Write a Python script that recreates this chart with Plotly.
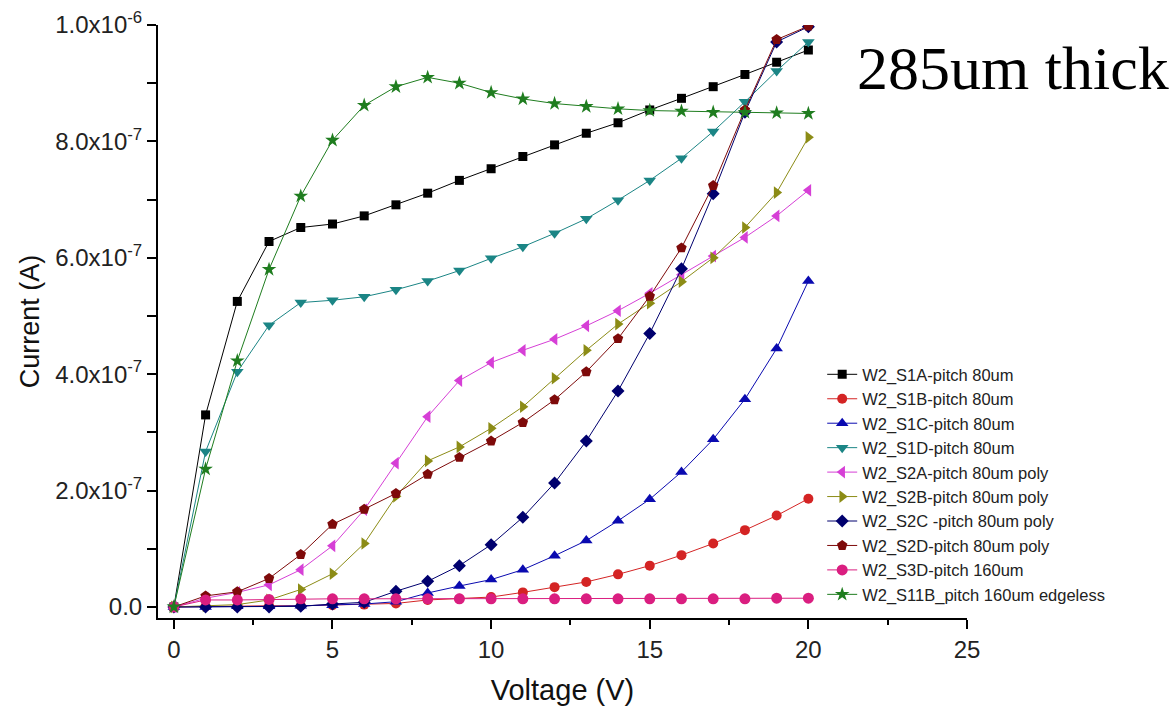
import plotly.graph_objects as go

# Bias voltage steps (V)
voltage = list(range(0, 21))

# Leakage current per sensor (A)
s1a = [0, 3.30e-7, 5.25e-7, 6.28e-7, 6.52e-7, 6.58e-7, 6.72e-7, 6.91e-7, 7.11e-7, 7.33e-7, 7.53e-7,
       7.74e-7, 7.94e-7, 8.14e-7, 8.32e-7, 8.54e-7, 8.74e-7, 8.94e-7, 9.15e-7, 9.36e-7, 9.57e-7]
s1b = [0, 0.01e-7, 0.01e-7, 0.02e-7, 0.02e-7, 0.03e-7, 0.04e-7, 0.06e-7, 0.12e-7, 0.14e-7, 0.17e-7,
       0.25e-7, 0.34e-7, 0.43e-7, 0.56e-7, 0.71e-7, 0.89e-7, 1.09e-7, 1.32e-7, 1.57e-7, 1.86e-7]
s1c = [0, 0.0, 0.01e-7, 0.01e-7, 0.02e-7, 0.03e-7, 0.05e-7, 0.09e-7, 0.24e-7, 0.36e-7, 0.47e-7,
       0.64e-7, 0.88e-7, 1.14e-7, 1.48e-7, 1.85e-7, 2.32e-7, 2.88e-7, 3.57e-7, 4.44e-7, 5.60e-7]
s1d = [0, 2.67e-7, 4.04e-7, 4.84e-7, 5.23e-7, 5.27e-7, 5.33e-7, 5.45e-7, 5.60e-7, 5.78e-7, 5.99e-7,
       6.19e-7, 6.42e-7, 6.67e-7, 6.99e-7, 7.33e-7, 7.71e-7, 8.17e-7, 8.68e-7, 9.21e-7, 9.71e-7]
s2a = [0, 0.15e-7, 0.25e-7, 0.38e-7, 0.64e-7, 1.05e-7, 1.67e-7, 2.47e-7, 3.27e-7, 3.89e-7, 4.20e-7,
       4.41e-7, 4.60e-7, 4.83e-7, 5.09e-7, 5.39e-7, 5.71e-7, 6.03e-7, 6.35e-7, 6.72e-7, 7.16e-7]
s2b = [0, 0.02e-7, 0.04e-7, 0.12e-7, 0.30e-7, 0.57e-7, 1.09e-7, 1.90e-7, 2.51e-7, 2.75e-7, 3.07e-7,
       3.44e-7, 3.93e-7, 4.41e-7, 4.86e-7, 5.22e-7, 5.59e-7, 6.00e-7, 6.52e-7, 7.12e-7, 8.07e-7]
s2c = [0, 0.0, 0.0, 0.0, 0.01e-7, 0.05e-7, 0.08e-7, 0.27e-7, 0.44e-7, 0.71e-7, 1.07e-7,
       1.54e-7, 2.13e-7, 2.85e-7, 3.71e-7, 4.70e-7, 5.81e-7, 7.10e-7, 8.50e-7, 9.71e-7, 9.97e-7]
s2d = [0, 0.19e-7, 0.26e-7, 0.49e-7, 0.90e-7, 1.42e-7, 1.68e-7, 1.95e-7, 2.28e-7, 2.57e-7, 2.85e-7,
       3.17e-7, 3.56e-7, 4.04e-7, 4.61e-7, 5.34e-7, 6.17e-7, 7.24e-7, 8.54e-7, 9.75e-7, 9.98e-7]
s3d = [0, 0.12e-7, 0.12e-7, 0.13e-7, 0.14e-7, 0.14e-7, 0.14e-7, 0.14e-7, 0.14e-7, 0.14e-7, 0.14e-7,
       0.14e-7, 0.14e-7, 0.14e-7, 0.14e-7, 0.14e-7, 0.14e-7, 0.14e-7, 0.14e-7, 0.15e-7, 0.15e-7]
s11b = [0, 2.37e-7, 4.23e-7, 5.80e-7, 7.06e-7, 8.02e-7, 8.62e-7, 8.94e-7, 9.10e-7, 9.00e-7, 8.84e-7,
        8.73e-7, 8.65e-7, 8.60e-7, 8.56e-7, 8.53e-7, 8.52e-7, 8.50e-7, 8.50e-7, 8.49e-7, 8.48e-7]

series_names = [
    "W2_S1A-pitch 80um", "W2_S1B-pitch 80um", "W2_S1C-pitch 80um", "W2_S1D-pitch 80um",
    "W2_S2A-pitch 80um poly", "W2_S2B-pitch 80um poly", "W2_S2C -pitch 80um poly",
    "W2_S2D-pitch 80um poly", "W2_S3D-pitch 160um", "W2_S11B_pitch 160um edgeless",
]
series_values = [s1a, s1b, s1c, s1d, s2a, s2b, s2c, s2d, s3d, s11b]
series_colors = ["#000000", "#D42424", "#0A0AB0", "#1B8585", "#D63FD6",
                 "#8C8C16", "#00006E", "#7E0A0A", "#DA1E80", "#1F7D1F"]
series_symbols = ["square", "circle", "triangle-up", "triangle-down", "triangle-left",
                  "triangle-right", "diamond", "pentagon", "circle", "star"]
series_sizes = [9, 10, 11, 11, 11, 11, 10, 11, 11, 11]

y_tick_vals = [0, 2e-7, 4e-7, 6e-7, 8e-7, 1e-6]
y_tick_text = ["0.0", "2.0x10<sup>-7</sup>", "4.0x10<sup>-7</sup>", "6.0x10<sup>-7</sup>",
               "8.0x10<sup>-7</sup>", "1.0x10<sup>-6</sup>"]

fig = go.Figure()
for i, (name, vals, col, sym, sz) in enumerate(
        zip(series_names, series_values, series_colors, series_symbols, series_sizes)):
    fig.add_trace(go.Scatter(
        x=voltage, y=vals, name=name, mode="lines+markers",
        legendgroup=f"g{i}",
        line=dict(color=col, width=1),
        marker=dict(symbol=sym, size=sz, color=col, line=dict(width=0)),
    ))

font_main = "Liberation Sans, Arial, sans-serif"

fig.update_layout(
    width=1175, height=711,
    margin=dict(l=158, r=208, t=25, b=93),
    paper_bgcolor="white", plot_bgcolor="white",
    font=dict(family=font_main, color="#1a1a1a"),
    showlegend=True,
    legend=dict(
        x=0.821, y=0.44, xanchor="left", yanchor="top",
        bgcolor="rgba(0,0,0,0)", borderwidth=0,
        font=dict(family=font_main, size=16.5, color="#222222"),
        tracegroupgap=0, traceorder="normal",
    ),
    xaxis=dict(
        range=[-0.5, 25], tickvals=[0, 5, 10, 15, 20, 25],
        automargin=False,
        showgrid=False, zeroline=False,
        showline=True, linecolor="black", linewidth=2, mirror=False,
        ticks="outside", ticklen=9, tickwidth=2, tickcolor="black",
        tickfont=dict(size=24, family=font_main, color="#222222"),
        minor=dict(ticks="outside", dtick=2.5, tick0=0, ticklen=5, tickwidth=2, tickcolor="black"),
        title=dict(text="Voltage (V)", font=dict(size=29, family=font_main, color="#111111"),
                   standoff=18),
    ),
    yaxis=dict(
        range=[-0.019e-6, 1.0e-6], tickvals=y_tick_vals, ticktext=y_tick_text,
        automargin=False,
        showgrid=False, zeroline=False,
        showline=True, linecolor="black", linewidth=2, mirror=False,
        ticks="outside", ticklen=9, tickwidth=2, tickcolor="black",
        tickfont=dict(size=24, family=font_main, color="#222222"),
        minor=dict(ticks="outside", dtick=1e-7, tick0=0, ticklen=9, tickwidth=2, tickcolor="black"),
        title=dict(text="Current (A)", font=dict(size=27, family=font_main, color="#111111"),
                   standoff=8),
    ),
    annotations=[dict(
        text="285um thick", xref="paper", yref="paper", x=0.862, y=0.9275,
        xanchor="left", yanchor="middle", showarrow=False,
        font=dict(family="Liberation Serif, Times New Roman, serif", size=62, color="black"),
    )],
)

fig.write_html("out.html")
